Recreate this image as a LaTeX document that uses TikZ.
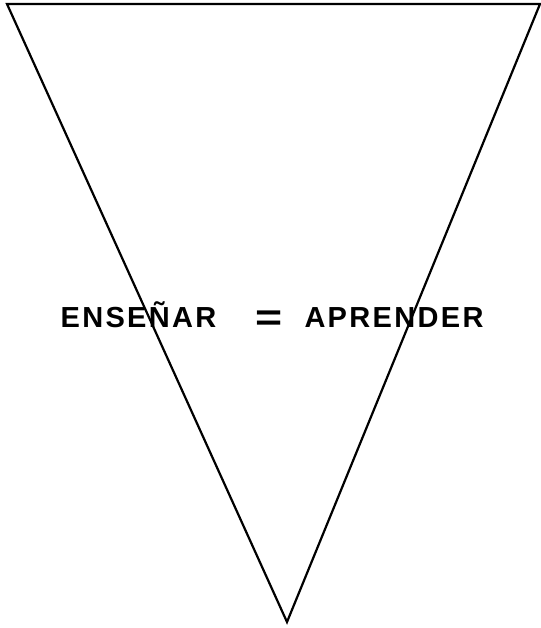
\documentclass[tikz,border=0pt]{standalone}
\usepackage{fontspec}
\setmainfont{Liberation Sans}
\usetikzlibrary{positioning,calc}

\begin{document}
\begin{tikzpicture}[x=1pt, y=-1pt,
          edge/.style={draw, line width=2.2pt, line join=miter},
          motto/.style={font=\fontsize{29}{32}\selectfont\bfseries\addfontfeature{LetterSpace=8},
                        inner sep=0pt, anchor=base}]
        \useasboundingbox (0,0) rectangle (540,628);
        \coordinate (tl) at (7,4);
        \coordinate (tr) at (540,4);
        \coordinate (apex) at (287,622);
        \draw[edge] (tl) -- (tr) -- (apex) -- cycle;

        \node[motto] (lhs) at (138.5,327) {ENSEÑAR};
        \node[motto] (eq)  at (269.5,330) {\scalebox{1.6}[1.3]{=}};
        \node[motto] (rhs) at (394,327) {APRENDER};
      \end{tikzpicture}
\end{document}
